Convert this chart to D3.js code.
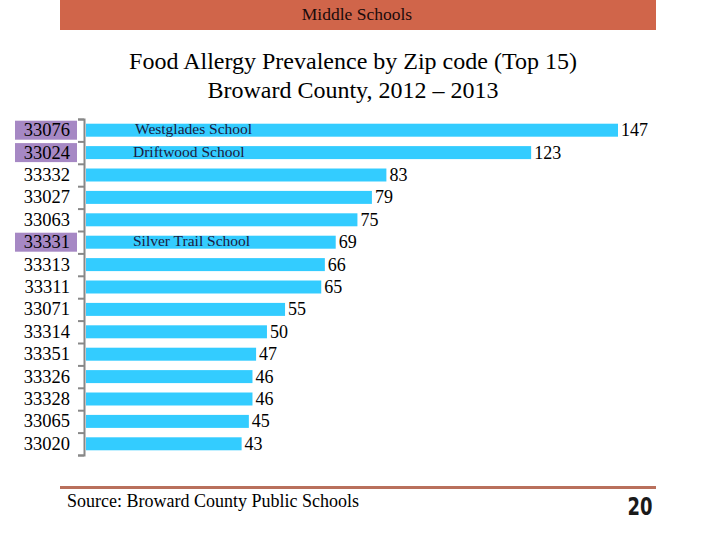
<!DOCTYPE html>
<html>
<head>
<meta charset="utf-8">
<script src="https://cdn.jsdelivr.net/npm/d3@7"></script>
<style>
  body { margin: 0; background: #fff; }
  text { font-family: "Liberation Serif", "Times New Roman", serif; }
</style>
</head>
<body>
<div id="chart"></div>
<script>
var width  = 720;
var height = 540;

// data
var zips   = ["33076","33024","33332","33027","33063","33331","33313","33311",
              "33071","33314","33351","33326","33328","33065","33020"];
var counts = [147, 123, 83, 79, 75, 69, 66, 65, 55, 50, 47, 46, 46, 45, 43];
var highlighted = ["33076","33024","33331"];
var schools = [["33076","Westglades School"], ["33024","Driftwood School"], ["33331","Silver Trail School"]];

var svg = d3.select("#chart").append("svg")
  .attr("width", width)
  .attr("height", height);

// header banner
svg.append("rect")
  .attr("x", 60).attr("y", 0)
  .attr("width", 596).attr("height", 30)
  .style("fill", "#d0654a");
svg.append("text")
  .attr("x", 357).attr("y", 20)
  .attr("text-anchor", "middle")
  .style("font-size", "17.5px")
  .style("fill", "#1a0a0a")
  .text("Middle Schools");

// title
svg.append("text")
  .attr("x", 353).attr("y", 69)
  .attr("text-anchor", "middle")
  .style("font-size", "24px")
  .text("Food Allergy Prevalence by Zip code (Top 15)");
svg.append("text")
  .attr("x", 353).attr("y", 98)
  .attr("text-anchor", "middle")
  .style("font-size", "24px")
  .text("Broward County, 2012 \u2013 2013");

var x = d3.scaleLinear().domain([0, 147]).range([86, 618]);
var y = d3.scaleBand().domain(zips).range([119, 455]).paddingInner(0.42).paddingOuter(0.21);

// highlight boxes behind some zip labels
svg.selectAll(".hl")
  .data(highlighted)
  .enter().append("rect")
  .attr("class", "hl")
  .attr("x", 15)
  .attr("y", function(d) { return y(d) + y.bandwidth() / 2 - 9.5; })
  .attr("width", 62)
  .attr("height", 19)
  .style("fill", "#a688c4");

// bars
svg.selectAll(".bar")
  .data(zips)
  .enter().append("rect")
  .attr("class", "bar")
  .attr("x", x(0))
  .attr("y", function(d) { return y(d); })
  .attr("width", function(d, i) { return x(counts[i]) - x(0); })
  .attr("height", y.bandwidth())
  .style("fill", "#33ccff");

// value labels
svg.selectAll(".val")
  .data(zips)
  .enter().append("text")
  .attr("class", "val")
  .attr("x", function(d, i) { return x(counts[i]) + 3; })
  .attr("y", function(d) { return y(d) + y.bandwidth() / 2 + 6; })
  .style("font-size", "18px")
  .text(function(d, i) { return counts[i]; });

// school names over the bars
svg.selectAll(".school")
  .data(schools)
  .enter().append("text")
  .attr("class", "school")
  .attr("x", function(d, i) { return i === 0 ? 135 : 133; })
  .attr("y", function(d) { return y(d[0]) + y.bandwidth() / 2 + 4; })
  .style("font-size", "15.5px")
  .style("fill", "#1a1a40")
  .text(function(d) { return d[1]; });

// category axis
var yAxis = d3.axisLeft(d3.scaleLinear().domain([0, zips.length]).range([119, 455]))
  .tickValues(d3.range(zips.length + 1))
  .tickSize(6).tickFormat("");
var ax = svg.append("g")
  .attr("transform", "translate(84,0)")
  .call(yAxis);
ax.selectAll("path, line").style("stroke", "#888").style("stroke-width", 2);

svg.selectAll(".zip")
  .data(zips)
  .enter().append("text")
  .attr("class", "zip")
  .attr("x", 70)
  .attr("y", function(d) { return y(d) + y.bandwidth() / 2 + 6; })
  .attr("text-anchor", "end")
  .style("font-size", "18.5px")
  .text(function(d) { return d; });

// footer
svg.append("rect")
  .attr("x", 60).attr("y", 486)
  .attr("width", 596).attr("height", 3)
  .style("fill", "#b9705c");
svg.append("text")
  .attr("x", 67).attr("y", 507)
  .style("font-size", "18px")
  .text("Source: Broward County Public Schools");
svg.append("text")
  .attr("transform", "translate(640,515) scale(0.72,1)")
  .attr("text-anchor", "middle")
  .style("font-family", "'DejaVu Sans', sans-serif")
  .style("font-weight", "bold")
  .style("font-size", "25px")
  .style("fill", "#1a1a1a")
  .text("20");
</script>
</body>
</html>
